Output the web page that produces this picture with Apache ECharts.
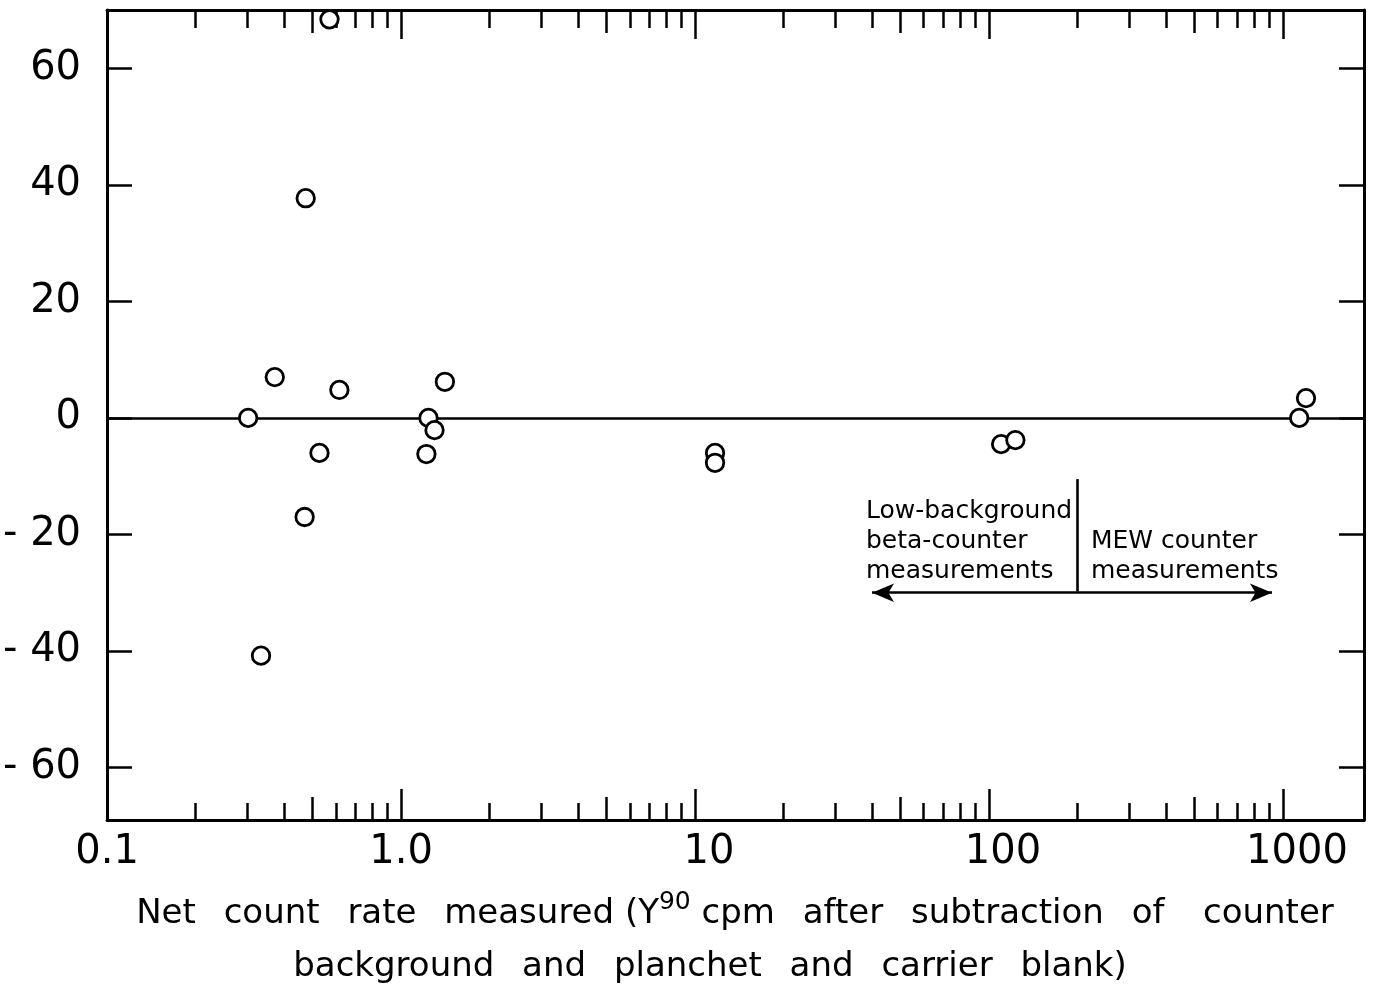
<!DOCTYPE html>
<html><head><meta charset="utf-8">
<script src="https://cdn.jsdelivr.net/npm/echarts@6/dist/echarts.min.js"></script>
<style>html,body{margin:0;padding:0;background:#fff}#c{width:1375px;height:989px}</style>
</head><body><div id="c"></div>
<script>
// Data
const countRate = [0.302, 0.372, 0.334, 0.474, 0.470, 0.571, 0.528, 0.617, 1.24, 1.30, 1.22, 1.41, 11.7, 11.7, 110, 123, 1136, 1198];
const deviation = [0, 7.0, -40.8, 37.7, -17.0, 68.4, -6.0, 4.8, 0, -2.1, -6.2, 6.2, -6.0, -7.7, -4.5, -3.8, 0, 3.4];

const xMajorTicks = [0.1, 1, 10, 100, 1000];
const xMajorLabels = ['0.1', '1.0', '10', '100', '1000'];
const xMidTicks = [0.5, 5, 50, 500];
const xMinorTicks = [0.2, 0.3, 0.4, 0.6, 0.7, 0.8, 0.9, 2, 3, 4, 6, 7, 8, 9, 20, 30, 40, 60, 70, 80, 90, 200, 300, 400, 600, 700, 800, 900];
const yTicks = [-60, -40, -20, 0, 20, 40, 60];

const xRange = [0.1, 1887];
const yRange = [-69, 70];

// annotation (data coordinates)
const dividerX = 200;
const dividerY = [-10.5, -29.8];
const arrowX = [40, 918];
const arrowY = -30;
const leftNote = ['Low-background', 'beta-counter', 'measurements'];
const rightNote = ['MEW counter', 'measurements'];

const FONT = 'DejaVu Sans';
const chart = echarts.init(document.getElementById('c'));

function xAxisDef(pos, ticks, len, withLine, withLabel) {
  return {
    type: 'log', logBase: 10, min: xRange[0], max: xRange[1], position: pos, gridIndex: 0,
    axisLine: { show: withLine, onZero: false, lineStyle: { color: '#000', width: 3 } },
    axisTick: { show: true, inside: true, length: len, customValues: ticks, lineStyle: { color: '#000', width: 2.5 } },
    axisLabel: withLabel ? {
      show: true, customValues: xMajorTicks, margin: 13, color: '#000', fontFamily: FONT, fontSize: 40,
      formatter: v => {
        const i = xMajorTicks.findIndex(t => Math.abs(t - v) / t < 1e-6);
        if (i < 0) return '';
        return i >= 2 ? '{s|' + xMajorLabels[i] + '}' : xMajorLabels[i];
      },
      rich: { s: { fontFamily: FONT, fontSize: 40, color: '#000', padding: [0, 0, 0, 28] } }
    } : { show: false },
    splitLine: { show: false }, minorTick: { show: false }, minorSplitLine: { show: false }
  };
}
function yAxisDef(pos, withLabel) {
  return {
    type: 'value', min: yRange[0], max: yRange[1], position: pos,
    axisLine: { show: true, onZero: false, lineStyle: { color: '#000', width: 3 } },
    axisTick: { show: true, inside: true, length: 25, customValues: yTicks, lineStyle: { color: '#000', width: 2.5 } },
    axisLabel: withLabel ? {
      show: true, customValues: yTicks, margin: 26, color: '#000', fontFamily: FONT, fontSize: 40,
      formatter: v => v < 0 ? '- ' + Math.abs(v) : String(v)
    } : { show: false },
    splitLine: { show: false }
  };
}

const textStyleBase = { fill: '#000', fontFamily: FONT };
const G = '\u2002 ';

chart.setOption({
  animation: false,
  backgroundColor: '#fff',
  grid: { left: 107, right: 11, top: 10, bottom: 169, containLabel: false },
  xAxis: [
    xAxisDef('bottom', xMajorTicks, 31, true, true),
    xAxisDef('bottom', xMidTicks, 23, false, false),
    xAxisDef('bottom', xMinorTicks, 17, false, false),
    xAxisDef('top', xMajorTicks, 29, true, false),
    xAxisDef('top', xMidTicks, 23, false, false),
    xAxisDef('top', xMinorTicks, 18, false, false)
  ],
  yAxis: [yAxisDef('left', true), yAxisDef('right', false)],
  series: [
    {
      type: 'line', xAxisIndex: 0, yAxisIndex: 0, data: [], silent: true,
      markLine: {
        silent: true, animation: false, symbol: ['none', 'none'], label: { show: false },
        lineStyle: { color: '#000', width: 2.6, type: 'solid' },
        data: [
          [{ coord: [xRange[0], 0] }, { coord: [xRange[1], 0] }],
          [{ coord: [dividerX, dividerY[0]] }, { coord: [dividerX, dividerY[1]] }],
          [{ coord: [arrowX[0], arrowY], symbol: 'arrow', symbolSize: [14, 22] },
           { coord: [arrowX[1], arrowY], symbol: 'arrow', symbolSize: [14, 22] }]
        ]
      }
    },
    {
      type: 'scatter', xAxisIndex: 0, yAxisIndex: 0, clip: false, z: 5,
      data: countRate.map((x, i) => [x, deviation[i]]),
      symbol: 'circle', symbolSize: 17.5,
      itemStyle: { color: '#fff', borderColor: '#000', borderWidth: 2.8, opacity: 1 }
    }
  ],
  graphic: [
    { type: 'text', left: 866, top: 496, style: Object.assign({ text: leftNote.join('\n'), fontSize: 25, lineHeight: 30 }, textStyleBase) },
    { type: 'text', left: 1091, top: 526, style: Object.assign({ text: rightNote.join('\n'), fontSize: 25, lineHeight: 30 }, textStyleBase) },
    {
      type: 'text', x: 735, y: 914,
      style: Object.assign({
        text: '{t|Net' + G + 'count' + G + 'rate' + G + 'measured (Y}{s|90}{t| cpm' + G + 'after' + G + 'subtraction' + G + 'of' + G + ' counter}',
        align: 'center', verticalAlign: 'middle',
        rich: {
          t: { fontSize: 34, fontFamily: FONT, fill: '#000' },
          s: { fontSize: 25, fontFamily: FONT, fill: '#000', padding: [0, 0, 24, 0] }
        }
      }, textStyleBase)
    },
    {
      type: 'text', x: 710, y: 967,
      style: Object.assign({
        text: 'background' + G + 'and' + G + 'planchet' + G + 'and' + G + 'carrier' + G + 'blank)',
        fontSize: 34, align: 'center', verticalAlign: 'middle'
      }, textStyleBase)
    }
  ]
});
</script></body></html>
